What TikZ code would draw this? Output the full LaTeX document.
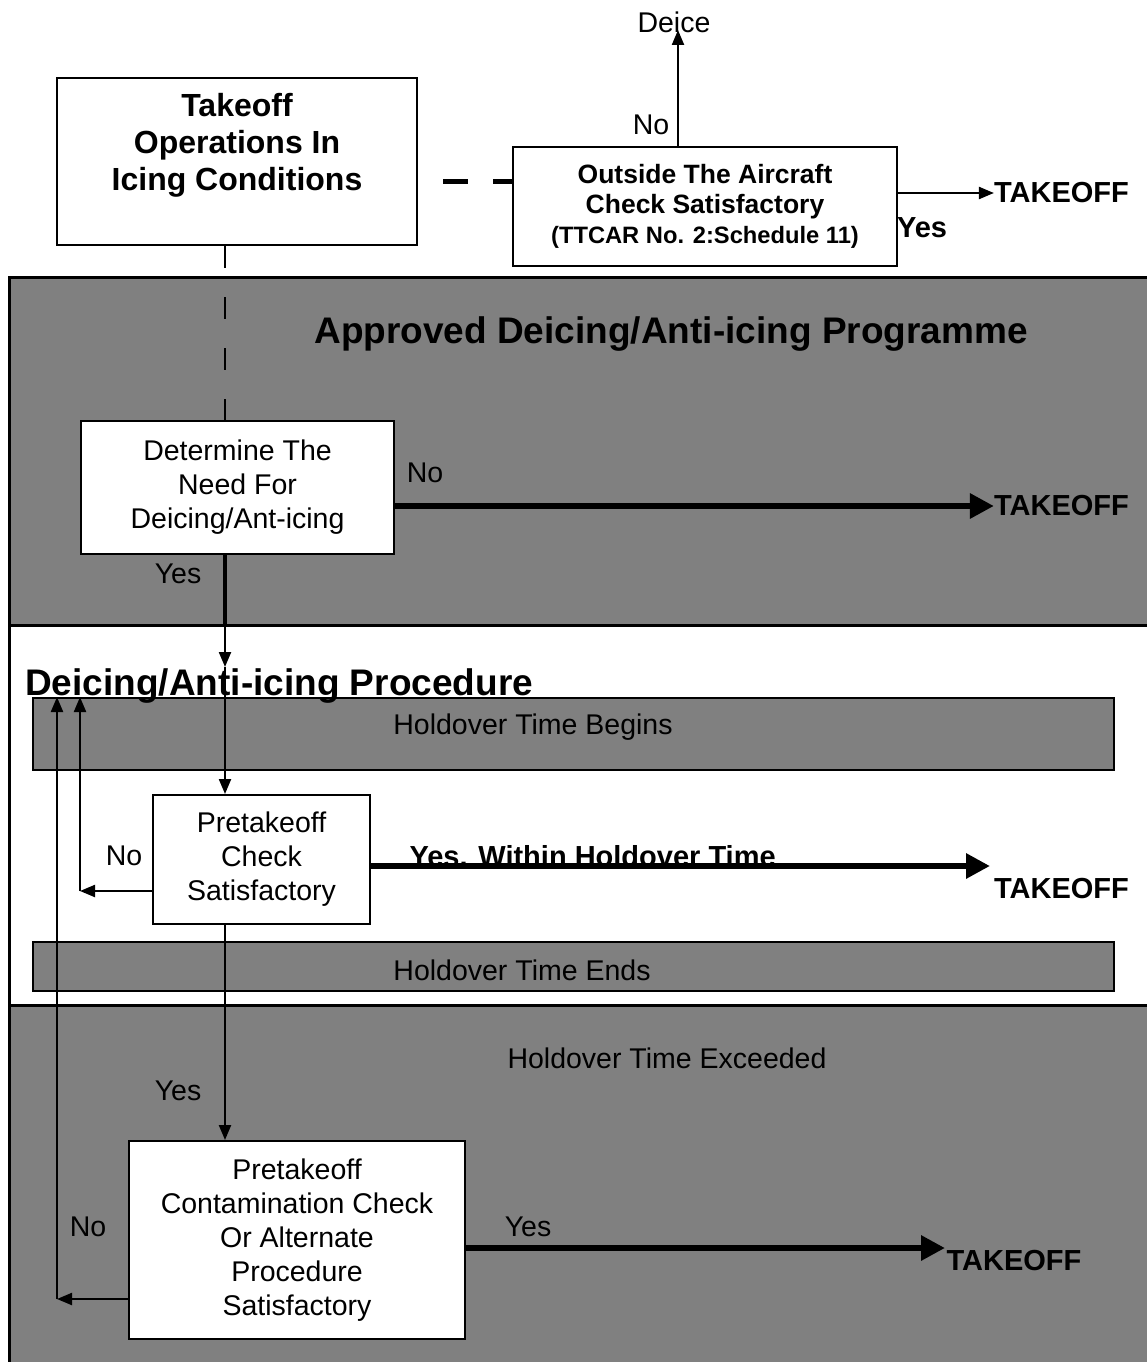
\documentclass[tikz,border=0pt]{standalone}
\usepackage{fontspec}
\setmainfont{Liberation Sans}
\usetikzlibrary{arrows.meta}
\definecolor{zonegray}{RGB}{128,128,128}

\begin{document}
\begin{tikzpicture}[x=1pt, y=-1pt,
        box/.style = {draw, fill=white, line width=2pt, align=center, inner sep=0pt, font=\fontsize{28.5}{34}\selectfont},
        txt/.style = {inner sep=0pt, font=\fontsize{28.5}{34}\selectfont},
        tk/.style = {inner sep=0pt, font=\bfseries\fontsize{29}{34}\selectfont},
        title/.style = {inner sep=0pt, font=\bfseries\fontsize{37}{44}\selectfont},
        zone/.style = {draw, line width=3pt},
        bar/.style = {draw, fill=zonegray, line width=1.5pt},
        thin/.style = {-{Triangle[length=15pt,width=12pt]}, line width=2.2pt},
        fat/.style = {-{Triangle[length=24pt,width=24pt]}, line width=6.5pt}
        ]
        \useasboundingbox (0,0) rectangle (1147,1362);
        % the three zones
        \draw[zone, fill=zonegray] (9,277) rectangle (1160,625);
        \draw[zone, fill=white] (9,625) rectangle (1160,1005);
        \draw[zone, fill=zonegray] (9,1005) rectangle (1160,1380);
        \draw[bar] (33,698) rectangle (1114,770);
        \draw[bar] (33,942) rectangle (1114,991);
        \coordinate (procTop) at (0,625);
        \coordinate (col) at (225,0);

        % titles and labels
        \node[title] (approved) at (671,334) {Approved Deicing/Anti-icing Programme};
        \node[title, anchor=base west] (proc) at (25,695) {Deicing/Anti-icing Procedure};
        \node[txt] (begins) at (533,727) {Holdover Time Begins};
        \node[txt] (ends) at (522,970) {Holdover Time Ends};
        \node[txt] (exceeded) at (667,1058) {Holdover Time Exceeded};
        \node[txt] (deice) at (674,22) {Deice};
        \node[txt] (noA) at (651,125) {No};
        \node[tk] (yesA) at (922,228) {Yes};
        \node[tk] (tkA) at (1061.5,193) {TAKEOFF};
        \node[txt] (noB) at (425,473) {No};
        \node[tk] (tkB) at (1061.5,506) {TAKEOFF};
        \node[txt] (yesB) at (178,574) {Yes};
        \node[txt] (noC) at (124,856) {No};
        \node[tk] (tkC) at (1061.5,889) {TAKEOFF};
        \node[txt] (yesD) at (178,1091) {Yes};
        \node[txt] (noE) at (88,1227) {No};
        \node[txt] (yesE) at (528,1227) {Yes};
        \node[tk] (tkD) at (1014,1261) {TAKEOFF};

        % boxes
        \node[box, minimum width=360pt, minimum height=167pt, text depth=40pt,
              font=\bfseries\fontsize{32}{37}\selectfont] (ops) at (237,161.5) {Takeoff\\Operations In\\Icing Conditions};
        \node[box, minimum width=384pt, minimum height=119pt,
              font=\bfseries\fontsize{26.5}{30}\selectfont] (outside) at (705,206.5)
              {Outside The Aircraft\\Check Satisfactory\\{\fontsize{23.7}{30}\selectfont (TTCAR No. 2:Schedule 11)}};
        \node[box, minimum width=313pt, minimum height=133pt] (need) at (237.5,487.5) {Determine The\\Need For\\Deicing/Ant-icing};
        \node[box, minimum width=217pt, minimum height=129pt] (check) at (261.5,859.5) {Pretakeoff\\Check\\Satisfactory};
        \node[box, minimum width=336pt, minimum height=198pt] (contam) at (297,1240)
              {Pretakeoff\\Contamination Check\\Or Alternate\\Procedure\\Satisfactory};

        % connectors
        \coordinate (dashrow) at (0,181);
        \coordinate (up) at (678,30);
        \coordinate (mid) at (225,667);
        \coordinate (endC) at (990,866);
        \coordinate (backA) at (80,891);
        \coordinate (topA) at (80,697);
        \coordinate (backB) at (57,1299);
        \coordinate (topB) at (57,697);
        \coordinate (endE) at (945,1248);
        \draw[line width=5pt, dash pattern=on 25pt off 25pt, dash phase=25pt] (ops.east |- dashrow) -- (outside.west |- dashrow);
        \draw[line width=2.5pt, dash pattern=on 22pt off 29pt] (col |- ops.south) -- (col |- need.north);
        \draw[thin] (outside.north -| up) -- (up);
        \draw[thin] (outside.east |- tkA) -- (tkA.west);
        \draw[fat] (need.east |- tkB) -- (tkB.west);
        \draw[line width=4pt] (col |- need.south) -- (col |- procTop);
        \draw[thin] (col |- procTop) -- (mid);
        \draw[thin] (mid) -- (col |- check.north);
        \draw[fat] (check.east |- endC) -- node[pos=0.358, anchor=base, tk] {Yes. Within Holdover Time} (endC);
        \draw[thin] (check.west |- backA) -- (backA);
        \draw[thin] (backA) -- (topA);
        \draw[thin] (col |- check.south) -- (col |- contam.north);
        \draw[thin] (contam.west |- backB) -- (backB);
        \draw[thin] (backB) -- (topB);
        \draw[fat] (contam.east |- endE) -- (endE);
\end{tikzpicture}
\end{document}
